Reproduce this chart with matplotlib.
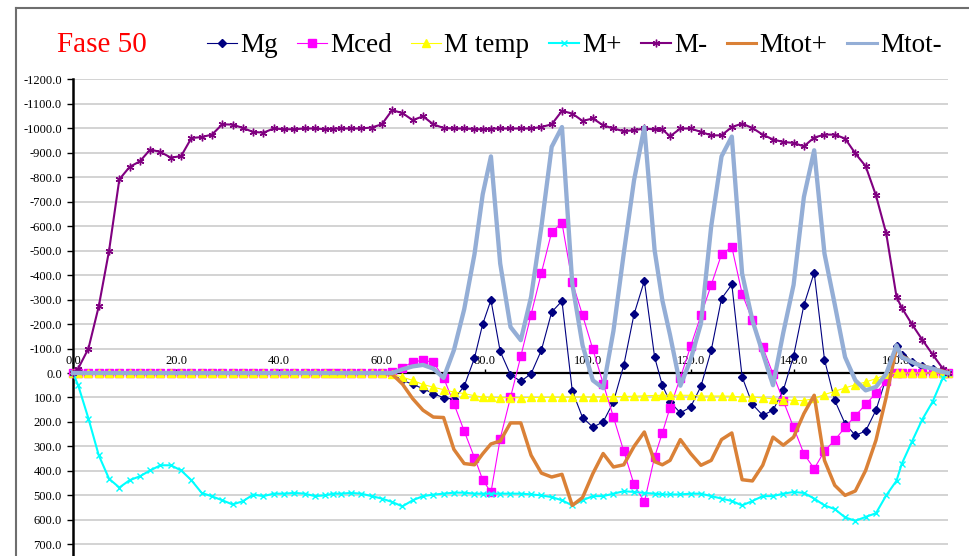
import matplotlib
matplotlib.use('Agg')
import matplotlib.pyplot as plt
from matplotlib.ticker import FuncFormatter
from matplotlib.lines import Line2D

plt.rcParams['font.family'] = ['Liberation Serif', 'DejaVu Serif']

# posizioni lungo l'impalcato
x_pos = [0, 1, 3, 5, 7, 9, 11, 13, 15, 17, 19, 21, 23, 25, 27, 29, 31, 33, 35, 37, 39, 41, 43, 45, 47, 49,
         50.5, 52, 54, 56, 58, 60,
         62, 64, 66, 68, 70, 72, 74, 76, 78,
         79.6, 81.2, 83, 85, 87, 89, 91, 93, 95, 97, 99, 101, 103, 105, 107, 109, 111, 113,
         114.5, 116, 118, 120, 122, 124, 126, 128, 130, 132, 134, 136, 138, 140, 142, 144, 146, 148,
         150, 152, 154, 156, 158, 160,
         161, 163, 165, 167, 169, 170]

zeros_0_60 = [0] * 32

mg = zeros_0_60 + [
    5, 30, 46, 64, 84, 101, 107, 54, -61,
    -200, -298, -88, 7, 34, 3, -93, -249, -294, 73, 182, 221, 200, 118, -31, -240, -376, -65,
    50, 118, 163, 139, 54, -93, -304, -362, 16, 128, 173, 152, 71, -70, -277, -410, -55, 112,
    207, 255, 237, 152, 20, -110,
    -75, -45, -30, -18, -8, 0]

mced = zeros_0_60 + [
    -5, -22, -45, -52, -44, 19, 125, 237, 346,
    436, 488, 268, 100, -68, -239, -409, -576, -613, -372, -236, -97, 43, 180, 319, 455, 527, 343,
    245, 141, 19, -109, -236, -360, -485, -515, -324, -215, -106, 4, 114, 222, 330, 391, 319, 274,
    222, 175, 128, 83, 33, 0,
    0, 0, 0, 0, 0, 0]

m_temp = zeros_0_60 + [
    5, 17, 30, 47, 58, 68, 78, 84, 93,
    98, 100, 101, 101, 101, 100, 100, 99, 99, 98, 98, 98, 97, 97, 96, 95, 93, 92,
    91, 91, 91, 91, 94, 94, 94, 95, 98, 98, 102, 105, 109, 112, 113, 104, 88, 75,
    61, 48, 37, 23, 6, 0,
    0, 0, 0, 0, 0, 0]

m_plus = [0, 50, 186, 336, 432, 468, 438, 422, 398, 377, 377, 398, 438, 490, 504, 520, 537, 524, 497,
          503, 493, 493, 490, 493, 503, 500,
          493, 493, 490, 493, 503, 513,
          527, 545, 520, 503, 497, 493, 489, 489, 493,
          493, 493, 493, 493, 493, 496, 500, 507, 520, 541, 520, 503, 503, 493, 483, 486, 490, 493,
          496, 496, 496, 493, 493, 503, 513, 523, 541, 523, 503, 503, 493, 486, 490, 513, 541, 556,
          590, 604, 588, 573, 500, 440,
          372, 280, 190, 118, 20, 0]

m_minus = [0, -18, -100, -272, -499, -791, -842, -865, -913, -903, -880, -886, -960, -964, -974, -1016,
           -1015, -1001, -985, -982, -999, -996, -996, -999, -999, -996,
           -998, -999, -999, -999, -1003, -1016,
           -1074, -1062, -1033, -1049, -1016, -1001, -999, -999, -997,
           -995, -998, -999, -999, -999, -999, -1005, -1016, -1071, -1060, -1030, -1040, -1012, -999,
           -988, -992, -999, -995,
           -995, -967, -999, -999, -985, -971, -971, -1005, -1019, -1001, -974, -954, -944, -940, -926,
           -962, -974, -974, -958, -897, -845, -726, -570, -311,
           -267, -199, -136, -76, -18, 0]

mtot_plus = zeros_0_60 + [
    5, 45, 105, 152, 180, 182, 312, 370, 375,
    330, 290, 278, 204, 204, 336, 409, 425, 414, 541, 509, 411, 329, 384, 375, 300, 241, 362,
    375, 357, 272, 329, 377, 357, 272, 245, 436, 441, 377, 262, 295, 262, 166, 91, 357, 459,
    500, 482, 398, 275, 98, -105,
    -70, -45, -30, -18, -8, 0]

mtot_minus = zeros_0_60 + [
    0, -15, -27, -33, -18, 20, -93, -260, -485,
    -730, -885, -447, -188, -134, -311, -597, -924, -1005, -365, -113, 30, 62, -172, -488, -787,
    -1005, -501,
    -297, -155, 52, -55, -202, -600, -885, -966, -406, -215, -82, 50, -165, -360, -719, -910,
    -488, -280, -65, 30, 71, 57, 3, -113,
    -65, -45, -27, -18, -4, 0]

x_ticks = [0, 20, 40, 60, 80, 100, 120, 140, 160]
y_ticks = list(range(-1200, 701, 100))

fig = plt.figure(figsize=(9.7, 5.56), dpi=100)
ax = fig.add_axes([73 / 970, 1 - 568.8 / 556, 875 / 970, (568.8 - 79.3) / 556])

ax.plot(x_pos, mg, color='#000080', lw=0.8, marker='D', ms=4.0, mec='#000080', mfc='#000080',
        label='Mg', clip_on=False)
ax.plot(x_pos, mced, color='#FF00FF', lw=0.8, marker='s', ms=5.2, mec='#FF00FF', mfc='#FF00FF',
        label='Mced', clip_on=False)
ax.plot(x_pos, m_temp, color='#FFFF00', lw=0.8, marker='^', ms=5.5, mec='#FFFF00', mfc='#FFFF00',
        label='M temp', clip_on=False)
ax.plot(x_pos, m_plus, color='#00FFFF', lw=1.5, marker='x', ms=4.6, mew=1.0,
        label='M+', clip_on=False)
ax.plot(x_pos, m_minus, color='#800080', lw=1.5, marker=(6, 2, 0), ms=5.5, mew=1.0,
        label='M-', clip_on=False)
ax.plot(x_pos, mtot_plus, color='#DA8137', lw=2.5, label='Mtot+', clip_on=False)
ax.plot(x_pos, mtot_minus, color='#94AED6', lw=3.1, label='Mtot-', clip_on=False)

ax.set_xlim(0, 170)
ax.set_ylim(800, -1200)

# asse x sulla linea dello zero, etichette sopra
ax.xaxis.set_ticks_position('top')
ax.spines['top'].set_position(('data', 0))
ax.spines['top'].set_linewidth(1.6)
ax.spines['top'].set_zorder(1.5)
ax.spines['left'].set_linewidth(1.8)
ax.spines['left'].set_zorder(1.5)
ax.spines['bottom'].set_visible(False)
ax.spines['right'].set_visible(False)
ax.set_xticks(x_ticks)
ax.xaxis.set_major_formatter(FuncFormatter(lambda v, p: f"{v:.1f}"))
ax.tick_params(axis='x', direction='out', length=3, width=1, pad=1.5, labelsize=9)

ax.set_yticks(y_ticks)
ax.yaxis.set_major_formatter(FuncFormatter(lambda v, p: f"{v:.1f}".replace('-0.0', '0.0')))
ax.tick_params(axis='y', direction='out', length=4, width=1, pad=4, labelsize=9)

ax.yaxis.grid(True, color='#C8C8C8', lw=1.1)
ax.set_axisbelow(True)

leg = fig.legend(loc='center left', bbox_to_anchor=(207 / 970, 1 - 46 / 556), ncol=7, frameon=False,
                 fontsize=19.5, handlelength=1.1, handletextpad=0.12, columnspacing=0.72,
                 borderpad=0, borderaxespad=0)
for h in leg.legend_handles[5:]:
    h.set_linewidth(2.2)

fig.text(57 / 970, 1 - 45 / 556, 'Fase 50', color='#FF0000', fontsize=21, va='center', ha='left')

# bordo dell'area del grafico
fig.add_artist(Line2D([16 / 970, 1], [1 - 8 / 556, 1 - 8 / 556], transform=fig.transFigure,
                      color='#6E6E6E', lw=1.5))
fig.add_artist(Line2D([16 / 970, 16 / 970], [0, 1 - 8 / 556], transform=fig.transFigure,
                      color='#6E6E6E', lw=1.5))

fig.savefig('out.png', dpi=100)
